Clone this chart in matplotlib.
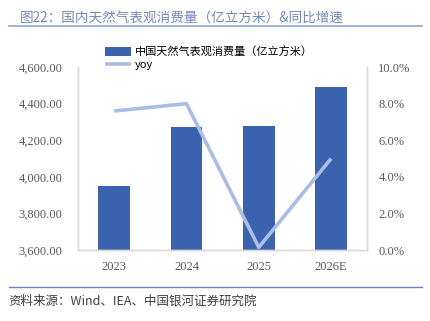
import matplotlib.pyplot as plt
import numpy as np

plt.rcParams['font.family'] = ['Noto Sans CJK SC', 'DejaVu Sans']

years = ['2023', '2024', '2025', '2026E']
consumption = [3951, 4272, 4277, 4490]
yoy = [7.6, 8.0, 0.15, 5.0]

bar_color = '#3a62ae'
line_color = '#a9bde6'
grid_grey = '#d9d9d9'
serif = ['Liberation Serif', 'Noto Sans CJK SC']

fig = plt.figure(figsize=(4.31, 3.21), dpi=100)
ax = fig.add_axes([0.181, 0.221, 0.671, 0.570])
ax2 = ax.twinx()

x = np.arange(len(years))
bars = ax.bar(x, consumption, width=0.44, color=bar_color, zorder=2,
              label='中国天然气表观消费量（亿立方米）')
line, = ax2.plot(x, yoy, color=line_color, lw=2.6, label='yoy',
                 solid_capstyle='butt')

ax.set_ylim(3600, 4600)
ax.set_yticks(np.arange(3600, 4601, 200))
ax.set_yticklabels([f'{v:,.2f}' for v in np.arange(3600, 4601, 200)],
                   family=serif, fontsize=9, color='#595959')
ax2.set_ylim(0, 10)
ax2.set_yticks(np.arange(0, 10.1, 2))
ax2.set_yticklabels([f'{v:.1f}%' for v in np.arange(0, 10.1, 2)],
                    family=serif, fontsize=9, color='#595959')
ax.set_xlim(-0.5, 3.5)
ax.set_xticks(x)
ax.set_xticklabels(years, family=serif, fontsize=9, color='#595959')

ax.tick_params(axis='y', length=0, pad=11)
ax.tick_params(axis='x', length=0, pad=8)
ax2.tick_params(length=0, pad=8)
for a in (ax, ax2):
    a.spines['top'].set_visible(False)
    for s in ('left', 'right', 'bottom'):
        a.spines[s].set_color(grid_grey)
        a.spines[s].set_linewidth(1.0)

fig.legend(handles=[bars, line], loc='upper left',
           bbox_to_anchor=(0.23, 0.872), frameon=False,
           prop={'family': ['Noto Sans CJK SC'], 'size': 8},
           handlelength=2.4, handleheight=0.9, handletextpad=0.3,
           labelspacing=0.2, borderpad=0)

fig.text(0.047, 0.945, '图22：国内天然气表观消费量（亿立方米）&同比增速',
         fontsize=9.8, color='#7489b8', va='center')
fig.add_artist(plt.Line2D([0.02, 0.98], [0.918, 0.918], color='#8fa5cf',
                          lw=1.2, transform=fig.transFigure))
fig.add_artist(plt.Line2D([0.02, 0.98], [0.105, 0.105], color='#6a86c0',
                          lw=1.0, transform=fig.transFigure))
fig.text(0.02, 0.062, '资料来源：Wind、IEA、中国银河证券研究院',
         fontsize=9, color='#404040', style='italic', va='center',
         family=['Noto Sans CJK SC'])

fig.savefig('out.png', dpi=100)
